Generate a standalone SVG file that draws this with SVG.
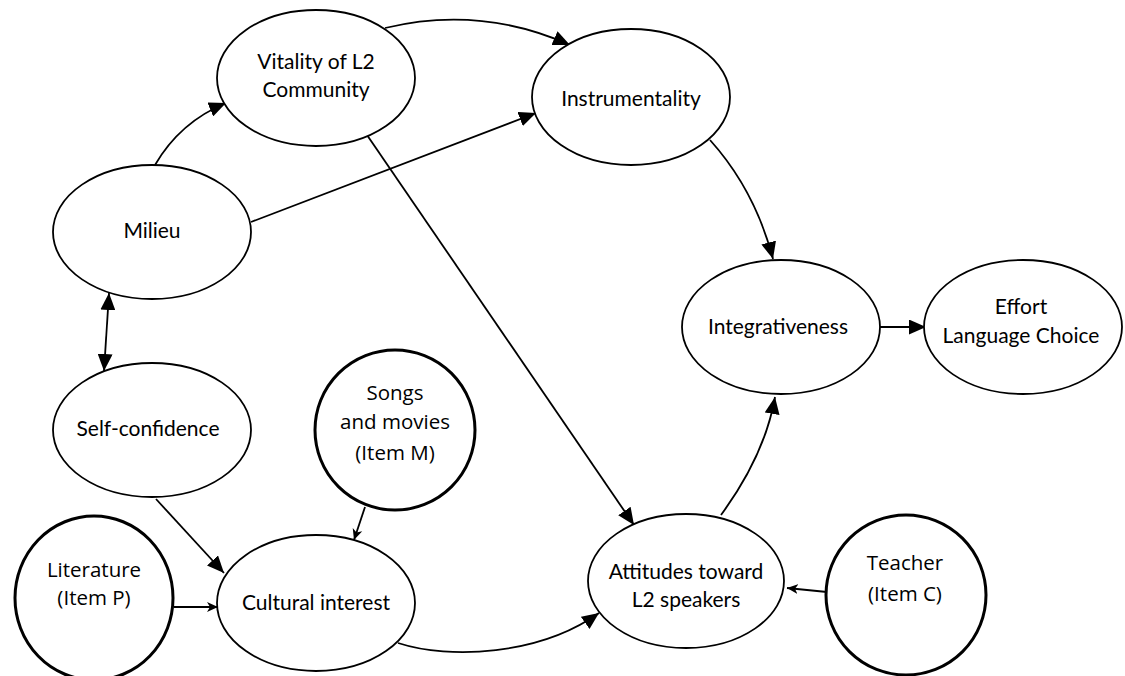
<svg xmlns="http://www.w3.org/2000/svg" width="1125" height="676" viewBox="0 0 1125 676">
<defs>
<style>
.n{fill:#fff;stroke:#000;stroke-width:1.8}
.t{fill:#fff;stroke:#000;stroke-width:3}
.l{font-family:Lato,"Liberation Sans",sans-serif;font-size:21px;fill:#000;text-anchor:middle}
.f{font-family:"Open Sans","Liberation Sans",sans-serif;font-size:20.5px;fill:#000;text-anchor:middle}
.c{fill:none;stroke:#000;stroke-width:1.8}
</style>
<marker id="a" markerUnits="userSpaceOnUse" markerWidth="19" markerHeight="15" refX="17" refY="7.5" orient="auto-start-reverse">
<path d="M0,0 L17,7.5 L0,15 z" fill="#000"/>
</marker>
<marker id="s" markerUnits="userSpaceOnUse" markerWidth="12" markerHeight="12" refX="11" refY="6" orient="auto">
<path d="M0,1 L11,6 L0,11 L3,6 z" fill="#000"/>
</marker>
</defs>
<g id="connectors">
<path class="c" d="M385,28 Q480,5 570,45" marker-end="url(#a)"/>
<path class="c" d="M155,165 Q180,122 226,103" marker-end="url(#a)"/>
<path class="c" d="M251,222 L536,113" marker-end="url(#a)"/>
<path class="c" d="M367,135 L634,525" marker-end="url(#a)"/>
<path class="c" d="M109,293 L104,371" marker-start="url(#a)" marker-end="url(#a)"/>
<path class="c" d="M710,140 Q755,190 773,259" marker-end="url(#a)"/>
<path class="c" d="M880,327 L926,327" marker-end="url(#a)"/>
<path class="c" d="M721,515 Q765,455 775,397" marker-end="url(#a)"/>
<path class="c" d="M827,592 L787,588" marker-end="url(#s)"/>
<path class="c" d="M398,643 C450,660 540,655 599,613" marker-end="url(#a)"/>
<path class="c" d="M156,499 L224,573" marker-end="url(#a)"/>
<path class="c" d="M365,507 L354,540" marker-end="url(#s)"/>
<path class="c" d="M174,607 L218,607" marker-end="url(#s)"/>
</g>
<g id="vitality"><ellipse class="n" cx="316" cy="78" rx="99" ry="68"/><text class="l" x="316" y="69">Vitality of L2</text><text class="l" x="316" y="97">Community</text></g>
<g id="instrumentality"><ellipse class="n" cx="631" cy="97" rx="99" ry="68"/><text class="l" x="631" y="106">Instrumentality</text></g>
<g id="milieu"><ellipse class="n" cx="152" cy="232" rx="99" ry="67"/><text class="l" x="152" y="238">Milieu</text></g>
<g id="selfconfidence"><ellipse class="n" cx="152" cy="430" rx="99" ry="67"/><text class="l" x="148" y="436">Self-confidence</text></g>
<g id="integrativeness"><ellipse class="n" cx="781" cy="327" rx="99" ry="67"/><text class="l" x="778" y="334">Integrativeness</text></g>
<g id="effort"><ellipse class="n" cx="1023" cy="327" rx="99" ry="67"/><text class="l" x="1021" y="314">Effort</text><text class="l" x="1021" y="343">Language Choice</text></g>
<g id="songs"><ellipse class="t" cx="395" cy="430" rx="80" ry="80"/><text class="f" x="395" y="400">Songs</text><text class="f" x="395" y="429">and movies</text><text class="f" x="395" y="460">(Item M)</text></g>
<g id="literature"><ellipse class="t" cx="94" cy="598" rx="79" ry="82"/><text class="f" x="94" y="577">Literature</text><text class="f" x="94" y="605">(Item P)</text></g>
<g id="cultural"><ellipse class="n" cx="316" cy="603" rx="99" ry="68"/><text class="l" x="316" y="610">Cultural interest</text></g>
<g id="attitudes"><ellipse class="n" cx="686" cy="581" rx="98" ry="67"/><text class="l" x="686" y="579">Attitudes toward</text><text class="l" x="686" y="607">L2 speakers</text></g>
<g id="teacher"><ellipse class="t" cx="906" cy="595" rx="80" ry="80"/><text class="f" x="905" y="570">Teacher</text><text class="f" x="905" y="601">(Item C)</text></g>
</svg>
